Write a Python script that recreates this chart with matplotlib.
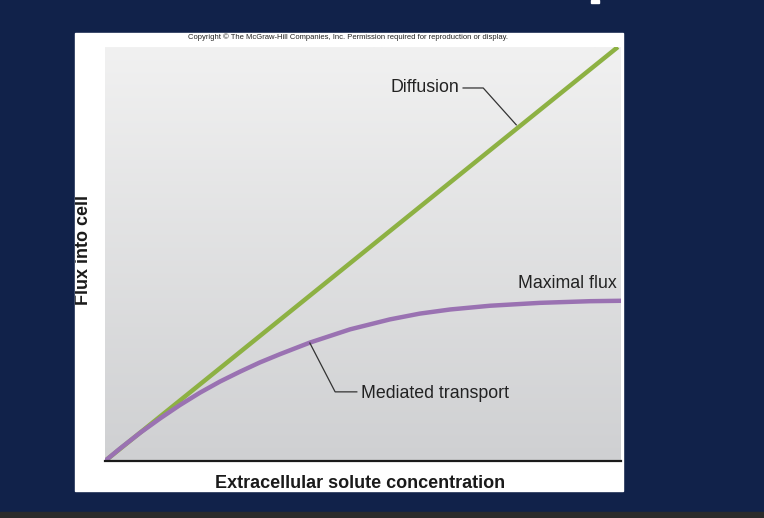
import numpy as np
import matplotlib
matplotlib.use("Agg")
import matplotlib.pyplot as plt
from matplotlib.patches import Rectangle

plt.rcParams["font.family"] = ["Liberation Sans", "DejaVu Sans"]

# values (arbitrary units, 0-10 on both axes)
diff_x = [0.0, 9.94]
diff_y = [0.0, 10.0]

med_x = [0.0, 0.29, 0.68, 1.07, 1.45, 1.84, 2.23, 2.62, 3.00, 3.39,
         3.97, 4.75, 5.52, 6.10, 6.69, 7.46, 8.43, 9.40, 10.0]
med_y = [0.0, 0.30, 0.68, 1.03, 1.35, 1.65, 1.92, 2.16, 2.38, 2.58,
         2.86, 3.18, 3.42, 3.56, 3.66, 3.75, 3.82, 3.86, 3.87]

W, H = 764, 518
fig = plt.figure(figsize=(W / 100, H / 100), dpi=100)
fig.patch.set_facecolor("#11224a")

def px_rect(x0, y0, x1, y1, color):
    r = Rectangle((x0 / W, 1 - y1 / H), (x1 - x0) / W, (y1 - y0) / H,
                  transform=fig.transFigure, color=color, zorder=-5)
    fig.patches.append(r)
    return r

panel = px_rect(75, 33, 623, 491, "white")
px_rect(0, 512, W, H, "#2b2b2b")
px_rect(591, 0, 599, 3, "white")

ax = fig.add_axes([105 / W, 1 - 461 / H, (621 - 105) / W, (461 - 47) / H])
ax.set_zorder(1)
ax.set_xlim(0, 10)
ax.set_ylim(0, 10)

# gray gradient background
grad = np.linspace(0, 1, 256).reshape(-1, 1)
top = np.array([241, 241, 241]) / 255
bot = np.array([207, 208, 210]) / 255
img = top + (bot - top) * grad[:, :, None]
ax.imshow(img, extent=[0, 10, 0, 10], aspect="auto", origin="upper", zorder=0)

ax.plot(diff_x, diff_y, color="#8db143", lw=3.2, solid_capstyle="butt", zorder=2)
ax.plot(med_x, med_y, color="#9a72b2", lw=3.2, solid_capstyle="round",
        solid_joinstyle="round", zorder=3)

for s in ["top", "left", "right"]:
    ax.spines[s].set_visible(False)
ax.spines["bottom"].set_linewidth(1.6)
ax.spines["bottom"].set_color("#1a1a1a")
ax.spines["bottom"].set_zorder(4)
ax.set_xticks([])
ax.set_yticks([])

# labels and leaders
lc = "#333333"
ax.text(6.86, 9.01, "Diffusion", ha="right", va="center", fontsize=12.8, color="#222222")
ax.plot([6.94, 7.33, 7.97], [9.01, 9.01, 8.12], color=lc, lw=0.9, zorder=4)

ax.text(9.92, 4.28, "Maximal flux", ha="right", va="center", fontsize=12.8, color="#222222")

ax.text(4.96, 1.64, "Mediated transport", ha="left", va="center", fontsize=12.8, color="#222222")
ax.plot([3.97, 4.46, 4.88], [2.85, 1.67, 1.67], color=lc, lw=0.9, zorder=4)

fig.text(360 / W, 1 - 483 / H, "Extracellular solute concentration", ha="center", va="center",
         fontsize=13, fontweight="bold", color="#1a1a1a")
ylab = fig.text(87.5 / W, 1 - 250 / H, "Flux into cell", ha="center", va="baseline",
                rotation=90, rotation_mode="anchor",
                fontsize=13, fontweight="bold", color="#1a1a1a")
ylab.set_clip_path(panel)
fig.text(348 / W, 1 - 37.5 / H,
         "Copyright \u00a9 The McGraw-Hill Companies, Inc. Permission required for reproduction or display.",
         ha="center", va="center", fontsize=5.5, color="#222222")

fig.savefig("out.png", dpi=100, facecolor=fig.get_facecolor())
